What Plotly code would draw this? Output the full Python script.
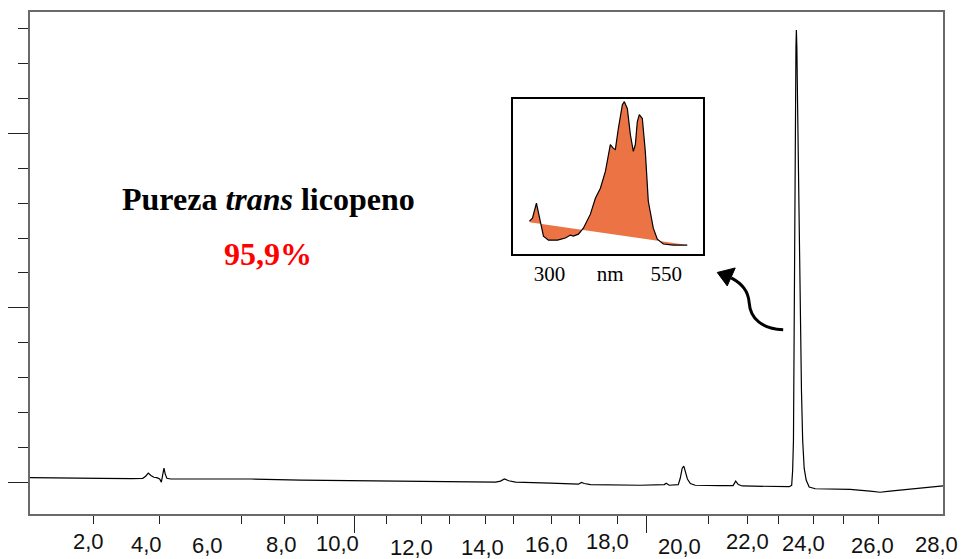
import plotly.graph_objects as go

# ---------------- data ----------------
# Chromatogram: retention time (min) and detector signal (arb. units)
time_min = [0.19, 1.14, 2.37, 3.29, 3.65, 3.74, 3.82, 3.90, 3.99, 4.08, 4.17, 4.22, 4.27, 4.30,
            4.34, 4.39, 4.51, 5.43, 6.96, 8.49, 10.02, 11.56, 13.09, 14.47, 14.62, 14.74, 14.87,
            15.08, 16.15, 17.01, 17.10, 17.19, 17.38, 18.91, 19.64, 19.70, 19.79, 20.07, 20.13,
            20.19, 20.24, 20.28, 20.35, 20.44, 20.59, 21.36, 21.75, 21.83, 21.91, 22.03, 22.89,
            23.470, 23.547, 23.577, 23.602, 23.623, 23.645, 23.663, 23.678, 23.691, 23.706,
            23.727, 23.755, 23.783, 23.813, 23.847, 23.884, 23.930, 23.991, 24.083, 24.271,
            25.34, 25.95, 26.26, 26.56, 27.18, 28.19]
signal = [0.13, 0.13, 0.11, 0.10, 0.11, 0.17, 0.26, 0.19, 0.14, 0.13, 0.09, 0.00, 0.23, 0.40,
          0.23, 0.11, 0.09, 0.09, 0.09, 0.06, 0.04, 0.03, 0.01, 0.00, 0.03, 0.09, 0.04,
          0.00, -0.03, -0.06, -0.01, -0.04, -0.07, -0.09, -0.07, -0.03, -0.09, -0.07, 0.11,
          0.40, 0.46, 0.34, 0.09, -0.04, -0.09, -0.10, -0.10, 0.03, -0.07, -0.11, -0.13,
          -0.13, -0.09, 0.34, 1.20, 5.20, 8.63, 10.91, 12.49, 12.97, 12.49,
          10.91, 8.63, 6.34, 4.34, 2.63, 1.20, 0.40, 0.06, -0.14, -0.19,
          -0.21, -0.26, -0.29, -0.26, -0.21, -0.11]

# UV-Vis spectrum of the main peak (inset)
wavelength_nm = [257.3, 263.7, 272.2, 280.8, 287.2, 297.9, 317.1, 334.2, 344.9, 351.3, 362.0,
                 372.6, 387.6, 398.3, 409.0, 419.7, 426.1, 430.3, 436.8, 441.0, 447.4, 456.0,
                 460.3, 466.7, 473.1, 479.5, 483.8, 488.0, 492.3, 498.7, 505.1, 511.5, 522.2,
                 530.8, 543.6, 565.0, 594.9]
absorbance = [0.22, 0.24, 0.34, 0.20, 0.12, 0.093, 0.093, 0.107, 0.127, 0.12, 0.133,
              0.173, 0.267, 0.373, 0.44, 0.553, 0.667, 0.733, 0.707, 0.70, 0.84, 1.00,
              1.02, 0.973, 0.80, 0.687, 0.733, 0.887, 0.933, 0.907, 0.687, 0.353, 0.173,
              0.10, 0.067, 0.06, 0.06]
baseline_nm = [257.3, 594.9]
baseline_abs = [0.213, 0.06]

# axis ticks and labels
x_major_ticks = [10.147, 19.090]
x_minor_ticks = [2.153, 4.175, 6.686, 8.003, 9.014, 11.127, 12.199, 13.056, 14.159, 15.017,
                 16.181, 17.038, 18.202, 20.989, 22.184, 23.133, 24.205, 25.124, 26.196]
x_tick_labels = ["2,0", "4,0", "6,0", "8,0", "10,0", "12,0", "14,0", "16,0", "18,0", "20,0",
                 "22,0", "24,0", "26,0", "28,0"]
x_label_pos = [2.0, 3.75, 5.64, 7.91, 9.63, 11.89, 14.07, 16.03, 17.90, 20.10, 22.18, 23.90,
               26.04, 28.0]
x_label_ypx = [543, 546, 547, 546, 545, 549, 549, 546, 542.5, 547.5, 542.5, 545, 547, 545.5]

inset_tickvals = [300, 430, 550]
inset_ticktext = ["300", "nm", "550"]

title_text = "<b>Pureza <i>trans</i> licopeno</b>"
purity_text = "<b>95,9%</b>"

# ---------------- layout helpers ----------------
W, H = 963, 559
L, R, T, B = 29, 943, 10, 514


def pxx(px):
    return (px - L) / (R - L)


def pxy(py):
    return (B - py) / (B - T)


fig = go.Figure()

fig.add_trace(go.Scatter(x=time_min, y=signal, mode="lines",
                         line=dict(color="#000000", width=1.2), showlegend=False,
                         hoverinfo="skip"))

# inset spectrum: invisible chord, then curve filled to chord
fig.add_trace(go.Scatter(x=baseline_nm, y=baseline_abs, mode="lines",
                         line=dict(width=0, color="rgba(0,0,0,0)"), xaxis="x2", yaxis="y2",
                         showlegend=False, hoverinfo="skip"))
fig.add_trace(go.Scatter(x=wavelength_nm, y=absorbance, mode="lines", fill="tonexty",
                         fillcolor="#EC7343", line=dict(color="#000000", width=1.2),
                         xaxis="x2", yaxis="y2", showlegend=False, hoverinfo="skip"))

frame_col = "#6a6a6a"
tick_col = "#222222"

x_lo = (L - 22.7) / 32.65
x_hi = (R - 22.7) / 32.65

fig.update_layout(
    width=W, height=H,
    margin=dict(l=L, r=W - R, t=T, b=H - B),
    paper_bgcolor="white", plot_bgcolor="white",
    xaxis=dict(range=[x_lo, x_hi], showgrid=False, zeroline=False,
               showline=True, linecolor=frame_col, linewidth=1.5, mirror=True,
               tickmode="array", tickvals=x_major_ticks, ticks="outside", ticklen=17,
               tickwidth=1.3, tickcolor=tick_col, showticklabels=False,
               minor=dict(tickmode="array", tickvals=x_minor_ticks, ticks="outside",
                          ticklen=8, tickwidth=1.3, tickcolor=tick_col)),
    yaxis=dict(range=[(482 - B) / 35, (482 - T) / 35], showgrid=False, zeroline=False,
               showline=True, linecolor=frame_col, linewidth=1.5, mirror=True,
               tickmode="linear", tick0=0, dtick=5, ticks="outside", ticklen=20,
               tickwidth=1.3, tickcolor=tick_col, showticklabels=False,
               minor=dict(tick0=0, dtick=1, ticks="outside", ticklen=10, tickwidth=1.3,
                          tickcolor=tick_col)),
    xaxis2=dict(domain=[pxx(513), pxx(703)], anchor="y2",
                range=[300 + (513 - 549) / 0.468, 300 + (703 - 549) / 0.468],
                showgrid=False, zeroline=False, showline=True, linecolor="#000000",
                linewidth=2, mirror=True, ticks="", tickmode="array",
                tickvals=inset_tickvals, ticktext=inset_ticktext, ticklabelstandoff=0,
                tickfont=dict(family="Liberation Serif", size=21, color="#000000")),
    yaxis2=dict(domain=[pxy(253), pxy(97)], anchor="x2", range=[0, 1.04],
                showgrid=False, zeroline=False, showline=True, linecolor="#000000",
                linewidth=2, mirror=True, ticks="", showticklabels=False),
)

annotations = []
for lab, xv, ypx in zip(x_tick_labels, x_label_pos, x_label_ypx):
    annotations.append(dict(x=xv, y=pxy(ypx - 1), xref="x", yref="paper", text=lab,
                            showarrow=False, xanchor="center", yanchor="middle",
                            font=dict(family="Liberation Sans", size=22, color="#111111")))
annotations.append(dict(x=pxx(268), y=pxy(198), xref="paper", yref="paper", text=title_text,
                        showarrow=False, xanchor="center", yanchor="middle",
                        font=dict(family="Liberation Serif", size=32, color="#000000")))
annotations.append(dict(x=pxx(267), y=pxy(253), xref="paper", yref="paper", text=purity_text,
                        showarrow=False, xanchor="center", yanchor="middle",
                        font=dict(family="Liberation Serif", size=32, color="#FF0000")))
fig.update_layout(annotations=annotations)


# curved arrow (decoration)
def pt(px, py):
    return f"{pxx(px):.5f},{pxy(py):.5f}"


curve = (f"M {pt(783, 329)} C {pt(762, 328)} {pt(750, 318)} {pt(749, 302)} "
         f"C {pt(748, 290)} {pt(742, 283)} {pt(731, 277)}")
head = f"M {pt(717, 271.5)} L {pt(735, 267)} L {pt(727, 285)} Z"
fig.add_shape(type="path", path=curve, xref="paper", yref="paper",
              line=dict(color="#000000", width=3))
fig.add_shape(type="path", path=head, xref="paper", yref="paper",
              line=dict(color="#000000", width=1), fillcolor="#000000")

fig.write_html("out.html")
